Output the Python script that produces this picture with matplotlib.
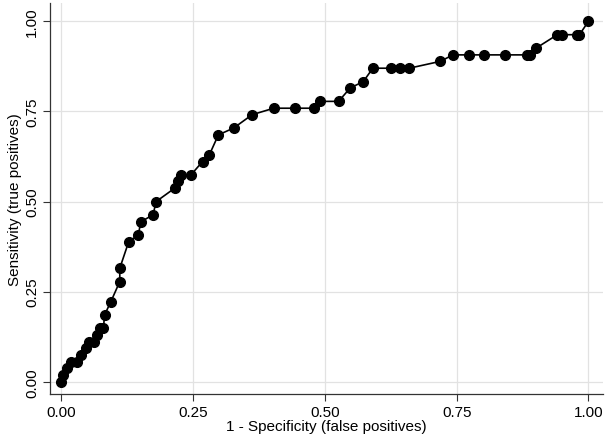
import matplotlib
matplotlib.use('Agg')
import matplotlib.pyplot as plt

# ROC points
fpr = [0, 0.004, 0.011, 0.019, 0.030, 0.038, 0.047, 0.053, 0.062, 0.068, 0.074,
       0.080, 0.082, 0.094, 0.111, 0.111, 0.128, 0.146, 0.151, 0.174, 0.180,
       0.215, 0.221, 0.227, 0.246, 0.268, 0.281, 0.298, 0.327, 0.362, 0.403,
       0.444, 0.479, 0.491, 0.526, 0.548, 0.573, 0.591, 0.626, 0.643, 0.660,
       0.719, 0.743, 0.773, 0.801, 0.842, 0.884, 0.890, 0.901, 0.941, 0.950,
       0.978, 0.983, 1.0]
tpr = [0, 0.019, 0.037, 0.056, 0.056, 0.074, 0.093, 0.111, 0.111, 0.130, 0.148,
       0.148, 0.185, 0.222, 0.278, 0.315, 0.389, 0.407, 0.444, 0.463, 0.500,
       0.537, 0.556, 0.574, 0.574, 0.611, 0.630, 0.685, 0.704, 0.741, 0.759,
       0.759, 0.759, 0.778, 0.778, 0.815, 0.833, 0.870, 0.870, 0.870, 0.870,
       0.889, 0.907, 0.907, 0.907, 0.907, 0.907, 0.907, 0.926, 0.963, 0.963,
       0.963, 0.963, 1.0]

ticks = [0, 0.25, 0.5, 0.75, 1.0]
tick_labels = ['0.00', '0.25', '0.50', '0.75', '1.00']

plt.rcParams['font.family'] = ['Liberation Sans', 'DejaVu Sans']

fig = plt.figure(figsize=(6.05, 4.35), dpi=100)
ax = fig.add_axes([0.083, 0.092, 0.914, 0.898])

ax.plot(fpr, tpr, color='black', lw=1.2, marker='o', ms=7, zorder=3)

ax.set_xlim(-0.021, 1.028)
ax.set_ylim(-0.034, 1.05)
ax.set_xticks(ticks)
ax.set_xticklabels(tick_labels)
ax.set_yticks(ticks)
ax.set_yticklabels(tick_labels, rotation=90, va='center')
ax.tick_params(labelsize=11, length=5, width=0.8, color='#333333', pad=3)
ax.grid(True, color='#e2e2e2', lw=0.9)
ax.set_axisbelow(True)

for s in ['top', 'right']:
    ax.spines[s].set_visible(False)
for s in ['left', 'bottom']:
    ax.spines[s].set_color('#333333')
    ax.spines[s].set_linewidth(0.9)

ax.set_xlabel('1 - Specificity (false positives)', fontsize=11, labelpad=0)
ax.set_ylabel('Sensitivity (true positives)', fontsize=11, labelpad=2)

fig.savefig('out.png', dpi=100)
